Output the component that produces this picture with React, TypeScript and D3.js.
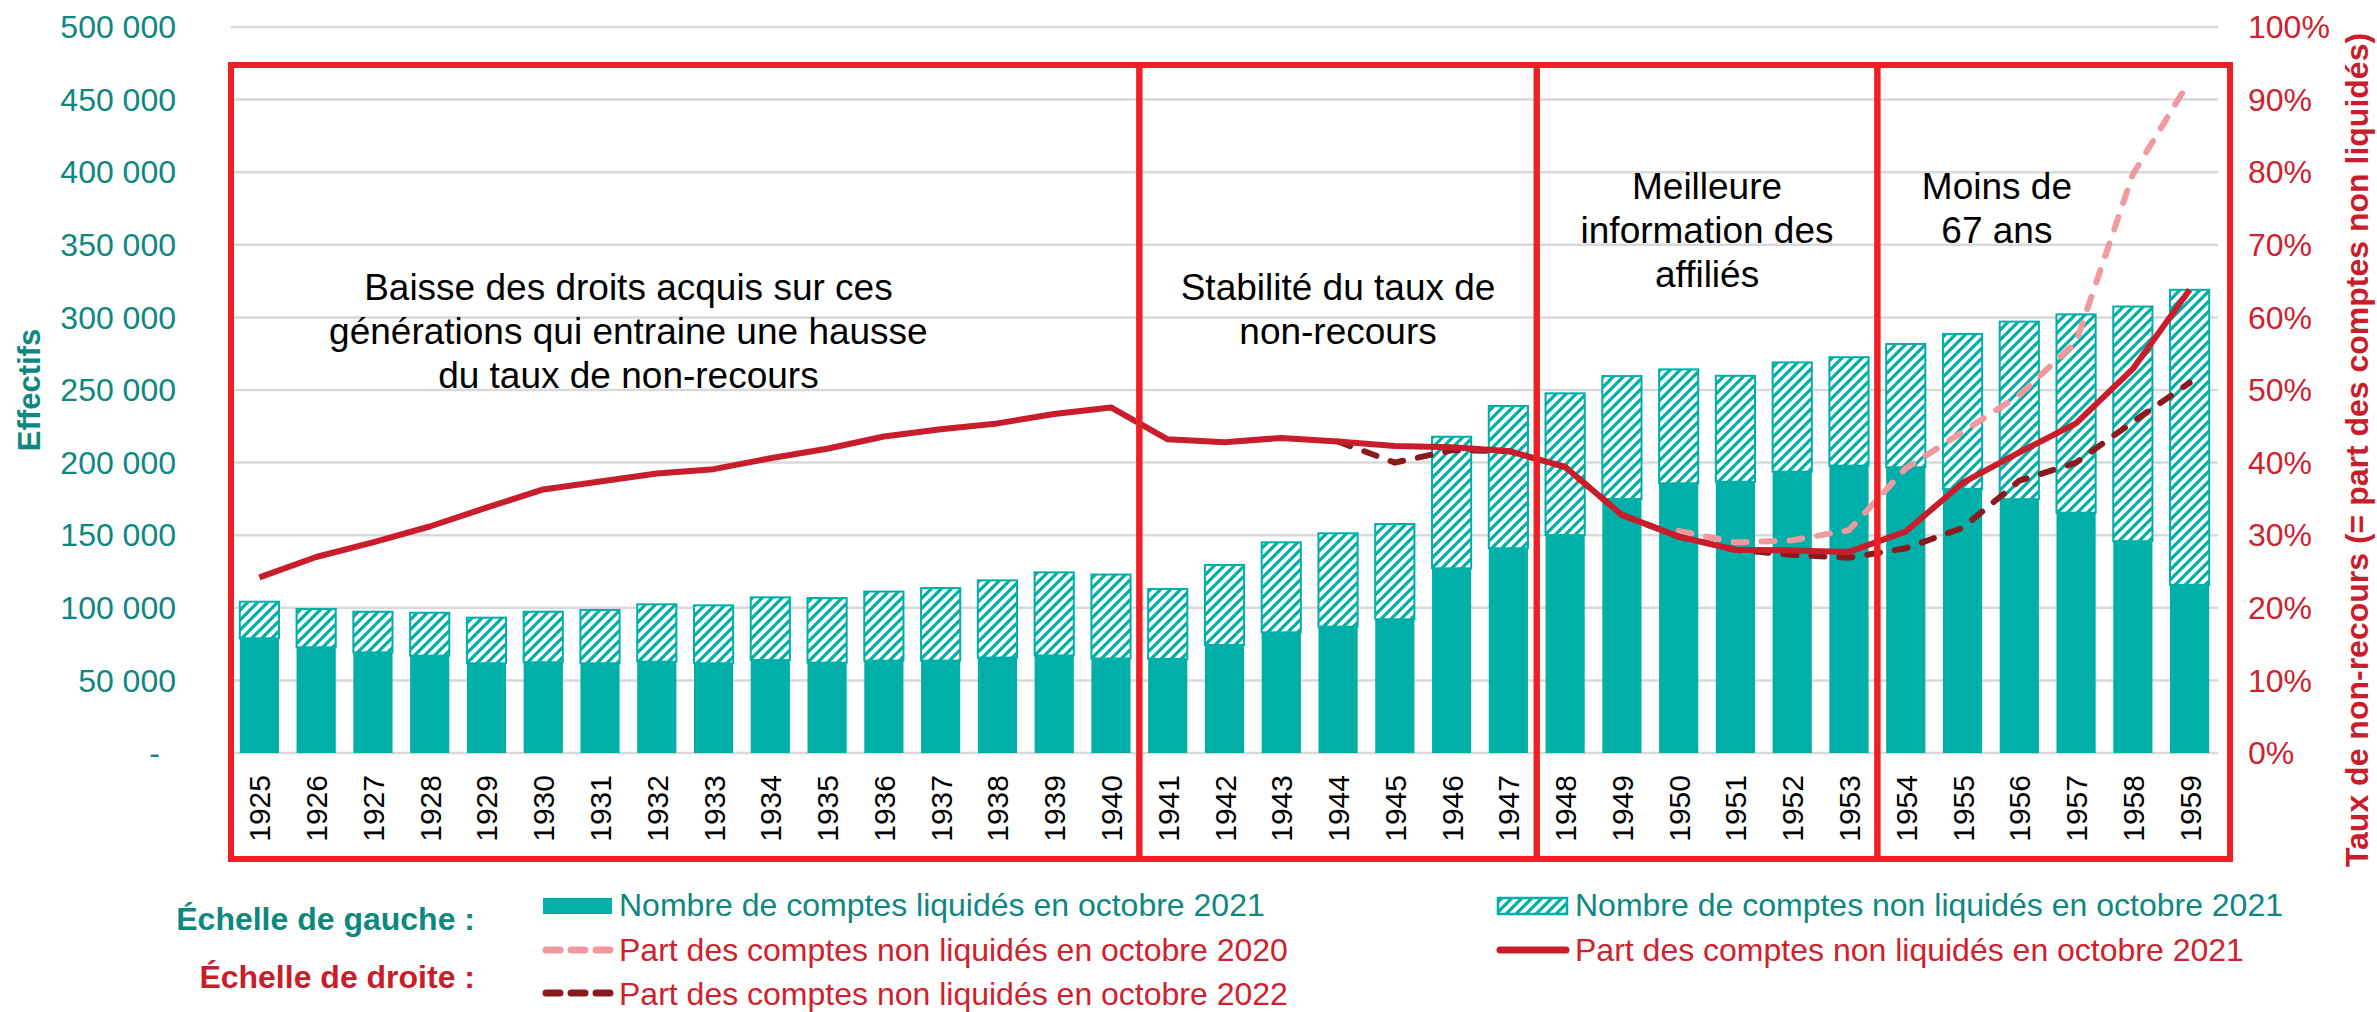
import React from "react";
import * as d3 from "d3";

// Générations (axe des abscisses)
const years = [
  "1925", "1926", "1927", "1928", "1929", "1930", "1931", "1932", "1933", "1934",
  "1935", "1936", "1937", "1938", "1939", "1940", "1941", "1942", "1943", "1944",
  "1945", "1946", "1947", "1948", "1949", "1950", "1951", "1952", "1953", "1954",
  "1955", "1956", "1957", "1958", "1959",
];

// Nombre de comptes liquidés en octobre 2021
const liquides = [
  79000, 72800, 69300, 67000, 61800, 62500, 61800, 62900, 61800, 64000,
  62200, 63600, 63600, 65700, 67200, 65100, 64800, 74400, 83100, 87000,
  92100, 127200, 141000, 150100, 174900, 185700, 186800, 193700, 197900, 196800,
  181800, 174800, 165500, 145900, 115800,
];

// Nombre de comptes non liquidés en octobre 2021
const nonLiquides = [
  25200, 26400, 28000, 29600, 31400, 34800, 36700, 39500, 39900, 43200,
  44500, 47600, 50000, 53200, 57200, 57800, 48200, 55100, 62000, 64300,
  65600, 90600, 98000, 97600, 84700, 78500, 73000, 75300, 74700, 84900,
  106800, 122300, 136600, 161600, 203200,
];

// Part des comptes non liquidés en octobre 2021 (%)
const part2021 = [
  24.2, 27.0, 29.0, 31.2, 33.8, 36.3, 37.4, 38.5, 39.1, 40.6,
  41.9, 43.6, 44.6, 45.4, 46.7, 47.6, 43.2, 42.8, 43.4, 42.9,
  42.3, 42.1, 41.6, 39.4, 32.8, 29.8, 28.0, 27.9, 27.7, 30.5,
  37.2, 41.4, 45.4, 52.9, 63.8,
];

// Part des comptes non liquidés en octobre 2020 (%)
const years2020 = ["1950", "1951", "1952", "1953", "1954", "1955", "1956", "1957", "1958", "1959"];
const part2020 = [30.6, 29.0, 29.3, 30.7, 39.2, 44.2, 49.3, 56.6, 79.7, 92.6];

// Part des comptes non liquidés en octobre 2022 (%)
const years2022 = [
  "1944", "1945", "1946", "1947", "1948", "1949", "1950", "1951",
  "1952", "1953", "1954", "1955", "1956", "1957", "1958", "1959",
];
const part2022 = [42.9, 40.0, 41.7, 41.6, 39.4, 32.8, 29.8, 28.0, 27.3, 26.9, 28.2, 31.0, 37.5, 40.0, 45.6, 51.0];

const leftTicks = [0, 50000, 100000, 150000, 200000, 250000, 300000, 350000, 400000, 450000, 500000];
const rightTicks = [0, 0.1, 0.2, 0.3, 0.4, 0.5, 0.6, 0.7, 0.8, 0.9, 1];

// Périodes encadrées
const zones = [
  { from: "1925", to: "1940", shift: -1, row: 0, text: ["Baisse des droits acquis sur ces", "générations qui entraine une hausse", "du taux de non-recours"] },
  { from: "1941", to: "1947", shift: 0, row: 0, text: ["Stabilité du taux de", "non-recours"] },
  { from: "1948", to: "1953", shift: 0, row: 1, text: ["Meilleure", "information des", "affiliés"] },
  { from: "1954", to: "1959", shift: -1, row: 1, text: ["Moins de", "67 ans"] },
];

const FONT = "'Liberation Sans', Arial, Helvetica, sans-serif";
const TEAL = "#00AFA8";
const TEAL_TXT = "#0E877F";
const RED_BOX = "#EE2026";
const CRIMSON = "#C91D2B";
const PINK = "#F0999E";
const DARK = "#8B1A1F";
const RED_TXT = "#D0212D";

const W = 2377;
const H = 1012;

const fr = d3.formatLocale({ decimal: ",", thousands: " ", grouping: [3], currency: ["", "€"] });

const App = () => {
  const x = d3.scaleBand<string>().domain(years).range([231, 2218]).paddingInner(0.31).paddingOuter(0.155);
  const xb = d3.scaleBand<string>().domain(years).range([231, 2218]);
  const y = d3.scaleLinear().domain([0, 500000]).range([753, 27]);
  const yr = d3.scaleLinear().domain([0, 1]).range([753, 27]);
  const cx = (yy: string) => (xb(yy) as number) + xb.bandwidth() / 2;

  const line = d3
    .line<[string, number]>()
    .x((d) => cx(d[0]))
    .y((d) => yr(d[1] / 100));

  const fmtLeft = (v: number) => (v === 0 ? "-" : fr.format(",")(v));
  const fmtRight = d3.format(".0%");

  const baseRows = [300, 199];

  return (
    <svg width={W} height={H} style={{ position: "absolute", left: 0, top: 0, background: "#fff" }} fontFamily={FONT}>
      <defs>
        <pattern id="hatch" patternUnits="userSpaceOnUse" width="10" height="10">
          <rect width="10" height="10" fill="#fff" />
          <path d="M-2.5,2.5 l5,-5 M0,10 l10,-10 M7.5,12.5 l5,-5" stroke={TEAL} strokeWidth="3.2" />
        </pattern>
      </defs>

      {/* Quadrillage */}
      {leftTicks.map((t) => (
        <line key={"g" + t} x1={231} x2={2218} y1={y(t)} y2={y(t)} stroke="#D9D9D9" strokeWidth={2.5} />
      ))}

      {/* Axe gauche */}
      {leftTicks.map((t) => (
        <text key={"l" + t} x={t === 0 ? 160 : 176} y={y(t)} dy="0.35em" textAnchor="end" fontSize={32} fill={TEAL_TXT}>
          {fmtLeft(t)}
        </text>
      ))}
      <text transform="translate(40,390) rotate(-90)" textAnchor="middle" fontSize={31} fontWeight="bold" fill={TEAL_TXT}>
        Effectifs
      </text>

      {/* Axe droit */}
      {rightTicks.map((t) => (
        <text key={"r" + t} x={2248} y={yr(t)} dy="0.35em" fontSize={32} fill={RED_TXT}>
          {fmtRight(t)}
        </text>
      ))}
      <text transform="translate(2368,450) rotate(-90)" textAnchor="middle" fontSize={32} fontWeight="bold" fill={CRIMSON}>
        Taux de non-recours (= part des comptes non liquidés)
      </text>

      {/* Barres */}
      {years.map((yy, i) => (
        <g key={"b" + yy}>
          <rect x={x(yy)} width={x.bandwidth()} y={y(liquides[i])} height={y(0) - y(liquides[i])} fill={TEAL} />
          <rect
            x={x(yy)}
            width={x.bandwidth()}
            y={y(liquides[i] + nonLiquides[i])}
            height={y(liquides[i]) - y(liquides[i] + nonLiquides[i])}
            fill="url(#hatch)"
            stroke={TEAL}
            strokeWidth={2}
          />
        </g>
      ))}

      {/* Libellés des générations */}
      {years.map((yy) => (
        <text key={"x" + yy} transform={`translate(${cx(yy) + 11},775) rotate(-90)`} textAnchor="end" fontSize={30} fill="#000">
          {yy}
        </text>
      ))}

      {/* Courbes */}
      <path
        d={line(years2020.map((yy, i) => [yy, part2020[i]]) as [string, number][]) || ""}
        fill="none"
        stroke={PINK}
        strokeWidth={6}
        strokeDasharray="13,15"
        strokeLinecap="round"
      />
      <path
        d={line(years2022.map((yy, i) => [yy, part2022[i]]) as [string, number][]) || ""}
        fill="none"
        stroke={DARK}
        strokeWidth={6}
        strokeDasharray="13,15"
        strokeLinecap="round"
      />
      <path
        d={line(years.map((yy, i) => [yy, part2021[i]]) as [string, number][]) || ""}
        fill="none"
        stroke={CRIMSON}
        strokeWidth={6}
        strokeLinejoin="round"
      />

      {/* Encadrés */}
      {zones.map((z, i) => {
        const left = xb(z.from) as number;
        const right = (xb(z.to) as number) + xb.bandwidth() + (i === zones.length - 1 ? 12 : 0);
        const tx = (left + right) / 2 + z.shift * xb.step();
        return (
          <g key={"z" + i}>
            <rect x={left} y={65} width={right - left} height={794} fill="none" stroke={RED_BOX} strokeWidth={6} />
            {z.text.map((t, j) => (
              <text key={j} x={tx} y={baseRows[z.row] + j * 44} textAnchor="middle" fontSize={37} fill="#000">
                {t}
              </text>
            ))}
          </g>
        );
      })}

      {/* Légende */}
      <text x={475} y={930} textAnchor="end" fontSize={32} fontWeight="bold" fill={TEAL_TXT}>
        Échelle de gauche :
      </text>
      <text x={475} y={988} textAnchor="end" fontSize={32} fontWeight="bold" fill={CRIMSON}>
        Échelle de droite :
      </text>

      <rect x={543} y={898} width={69} height={16} fill={TEAL} />
      <text x={619} y={916} fontSize={32} fill={TEAL_TXT}>Nombre de comptes liquidés en octobre 2021</text>

      <rect x={1498} y={898} width={69} height={16} fill="url(#hatch)" stroke={TEAL} strokeWidth={2.5} />
      <text x={1575} y={916} fontSize={32} fill={TEAL_TXT}>Nombre de comptes non liquidés en octobre 2021</text>

      <line x1={546} x2={610} y1={950} y2={950} stroke={PINK} strokeWidth={7} strokeDasharray="14,11" strokeLinecap="round" />
      <text x={619} y={961} fontSize={32} fill={RED_TXT}>Part des comptes non liquidés en octobre 2020</text>

      <line x1={1500} x2={1566} y1={950} y2={950} stroke={CRIMSON} strokeWidth={7} strokeLinecap="round" />
      <text x={1575} y={961} fontSize={32} fill={RED_TXT}>Part des comptes non liquidés en octobre 2021</text>

      <line x1={546} x2={610} y1={993} y2={993} stroke={DARK} strokeWidth={7} strokeDasharray="14,11" strokeLinecap="round" />
      <text x={619} y={1005} fontSize={32} fill={RED_TXT}>Part des comptes non liquidés en octobre 2022</text>
    </svg>
  );
};

export default App;
